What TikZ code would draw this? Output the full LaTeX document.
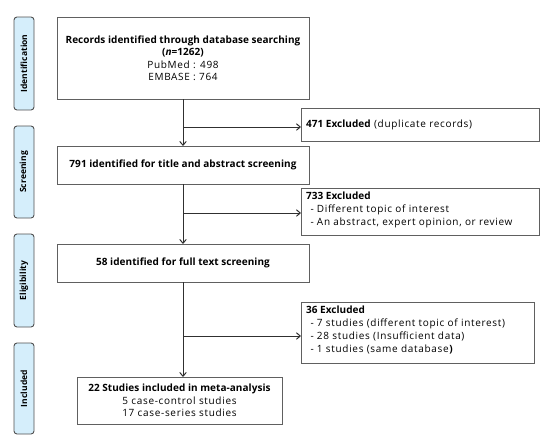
\documentclass[tikz,border=0pt]{standalone}
\usepackage{fontspec}
\setmainfont{Open Sans}[UprightFeatures={LetterSpace=6.8},BoldFeatures={LetterSpace=0.5}]
\usetikzlibrary{arrows.meta,calc}
\definecolor{sidefill}{HTML}{D5EEFB}
\definecolor{sideline}{HTML}{505050}
\definecolor{boxline}{HTML}{606060}
\definecolor{arrline}{HTML}{303030}
\newcommand{\dashitem}{\hspace*{4.5pt}- }
\begin{document}
\begin{tikzpicture}[x=1pt,y=-1pt,
  every node/.style={inner sep=0pt,outer sep=0pt},
  mainbox/.style={draw=boxline,line width=0.9pt,align=center,font=\fontsize{10}{12.5}\selectfont},
  exbox/.style={draw=boxline,line width=0.9pt},
  extext/.style={anchor=north west,align=left,font=\fontsize{10}{13}\selectfont},
  sidebox/.style={draw=sideline,fill=sidefill,line width=0.9pt,rounded corners=3pt,minimum width=20pt},
  sidetext/.style={rotate=90,font=\bfseries\fontsize{8.5}{9}\selectfont},
  arr/.style={draw=arrline,line width=1pt,-{Straight Barb[length=3.8pt,width=6.5pt]}},
  ln/.style={draw=arrline,line width=1pt}]
\useasboundingbox (0,0) rectangle (550,440);
% side labels
\node[sidebox,minimum height=93pt] (s1) at (24,63.5) {};
\node[sidetext] (s1t) at (s1) {Identification};
\node[sidebox,minimum height=92pt] (s2) at (24,172) {};
\node[sidetext] (s2t) at (s2) {Screening};
\node[sidebox,minimum height=93pt] (s3) at (24,280.5) {};
\node[sidetext] (s3t) at (s3) {Eligibility};
\node[sidebox,minimum height=91pt] (s4) at (24,388.5) {};
\node[sidetext] (s4t) at (s4) {Included};
% main boxes
\node[mainbox,minimum width=252pt,minimum height=82pt] (b1) at (183,58)
  {\textbf{Records identified through database searching}\\\textbf{(\textit{n}=1262)}\\PubMed : 498\\EMBASE : 764};
\node[mainbox,minimum width=252pt,minimum height=38pt] (b2) at (183,165)
  {\textbf{791 identified for title and abstract screening}};
\node[mainbox,minimum width=252pt,minimum height=38pt] (b3) at (183,263)
  {\textbf{58 identified for full text screening}};
\node[mainbox,minimum width=205pt,minimum height=47pt] (b4) at (179.5,400.5)
  {\textbf{22 Studies included in meta-analysis}\\5 case-control studies\\17 case-series studies};
% exclusion boxes
\node[exbox,minimum width=238pt,minimum height=33pt] (e1) at (420,124.5) {};
\node[extext,anchor=west] (e1t) at (306,124.5) {\textbf{471 Excluded} (duplicate records)};
\node[exbox,minimum width=238pt,minimum height=47pt] (e2) at (420,211.5) {};
\node[extext] (e2t) at (306,191.5) {\textbf{733 Excluded}\\\dashitem Different topic of interest\\\dashitem An abstract, expert opinion, or review};
\node[exbox,minimum width=233pt,minimum height=61pt] (e3) at (417.5,332.5) {};
\node[extext] (e3t) at (306,305.5) {\textbf{36 Excluded}\\\dashitem 7 studies (different topic of interest)\\\dashitem 28 studies (Insufficient data)\\\dashitem 1 studies (same database\textbf{)}};
% connectors
\coordinate (c1) at (183,127);
\coordinate (c2) at (183,213);
\coordinate (c3) at (183,336);
\draw[arr] (b1.south) -- (b2.north);
\draw[arr] (b2.south) -- (b3.north);
\draw[arr] (b3.south) -- (b3.south |- b4.north);
\draw[arr] (c1) -- (c1 -| e1.west);
\draw[arr] (c2) -- (c2 -| e2.west);
\draw[arr] (c3) -- (c3 -| e3.west);
\end{tikzpicture}
\end{document}
